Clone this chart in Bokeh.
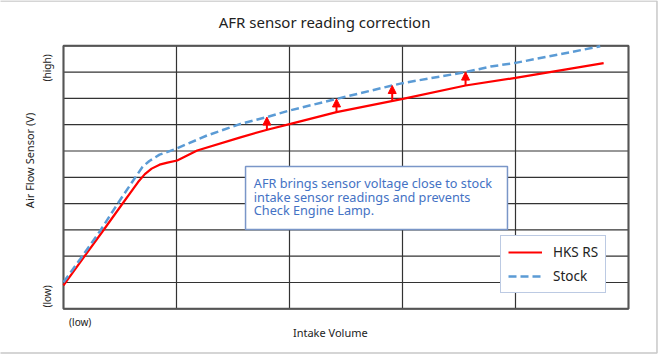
import numpy as np
from bokeh.plotting import figure
from bokeh.models import (Label, BoxAnnotation, Arrow, NormalHead,
                          Legend, LegendItem, ColumnDataSource)
from bokeh.embed import file_html
from bokeh.resources import INLINE

# ---- data (arbitrary units) ----
hks_x = [0.0, 0.195, 0.342, 0.504, 0.66, 0.72, 0.78, 0.85, 0.92, 1.006, 1.183, 1.566, 1.803, 2.009, 2.416, 3.003, 3.558, 4.0, 4.78]
hks_y = [0.89, 2.05, 2.92, 3.89, 4.82, 5.12, 5.33, 5.48, 5.56, 5.64, 6.02, 6.52, 6.81, 7.03, 7.48, 7.98, 8.49, 8.78, 9.34]

stock_x = [0.0, 0.15, 0.327, 0.475, 0.62, 0.70, 0.76, 0.85, 0.976, 1.27, 1.566, 1.80, 2.0, 2.416, 2.909, 3.0, 3.558, 3.78, 4.0, 4.75]
stock_y = [1.01, 1.9, 2.98, 3.97, 4.9, 5.4, 5.62, 5.86, 6.05, 6.59, 7.03, 7.29, 7.54, 7.98, 8.49, 8.58, 9.0, 9.21, 9.35, 9.98]

arrow_x = [1.80, 2.416, 2.909, 3.558]
arrow_from = [6.81, 7.48, 7.90, 8.49]
arrow_to = [7.29, 7.98, 8.49, 9.0]

x_grid = [0, 1, 2, 3, 4, 5]
y_grid = [0, 1, 2, 3, 4, 5, 6, 7, 8, 9, 10]

title_text = "AFR sensor reading correction"
y_label = "Air Flow Sensor (V)"
x_label = "Intake Volume"
y_tick_labels = ["(low)", "(high)"]
x_tick_labels = ["(low)"]
note_lines = ["AFR brings sensor voltage close to stock",
              "intake sensor readings and prevents",
              "Check Engine Lamp."]
series_names = ["HKS RS", "Stock"]

RED = "#ff0000"
BLUE = "#5b9bd5"
BOX_BLUE = "#7a96c8"
TEXT_BLUE = "#4472c4"
INK = "#222222"
FONT = "Noto Sans"

X0, X1 = x_grid[0], x_grid[-1]
Y0, Y1 = y_grid[0], y_grid[-1]

p = figure(width=658, height=356, output_backend="svg", toolbar_location=None,
           x_range=(-0.5575, 5.2655), y_range=(-1.8137, 11.7224),
           x_axis_location=None, y_axis_location=None, min_border=0)
p.xgrid.visible = False
p.ygrid.visible = False
p.outline_line_color = None
p.background_fill_color = "white"
p.border_fill_color = "white"

# outer light border (top, right, bottom)
p.line([-0.6, 5.252, 5.252, -0.6], [11.703, 11.703, -1.681, -1.681],
       line_color="#c8c8c8", line_width=1.5)

# grid
p.segment(x0=x_grid, y0=[Y0] * len(x_grid), x1=x_grid, y1=[Y1] * len(x_grid),
          line_color="#333333", line_width=1.2)
p.segment(x0=[X0] * len(y_grid), y0=y_grid, x1=[X1] * len(y_grid), y1=y_grid,
          line_color="#333333", line_width=1.2)
p.quad(left=[X0], right=[X1], bottom=[Y0], top=[Y1], fill_color=None,
       line_color="#555555", line_width=2)

r_hks = p.line(hks_x, hks_y, line_color=RED, line_width=2.2)
r_stock = p.line(stock_x, stock_y, line_color=BLUE, line_width=2.5, line_dash="8 4")

src = ColumnDataSource(dict(x=arrow_x, y0=arrow_from, y1=arrow_to))
p.add_layout(Arrow(source=src, x_start="x", y_start="y0", x_end="x", y_end="y1",
                   line_color=RED, line_width=2,
                   end=NormalHead(size=8, fill_color=RED, line_color=RED, line_width=1)))

# annotation box
p.add_layout(BoxAnnotation(left=1.611, right=3.929, bottom=3.015, top=5.41,
                           fill_color="white", fill_alpha=1.0,
                           line_color=BOX_BLUE, line_width=1.5, line_alpha=1.0))
for line_text, ly in zip(note_lines, [4.78, 4.26, 3.74]):
    p.add_layout(Label(x=1.684, y=ly, text=line_text, text_baseline="middle", text_align="left",
                       text_font=FONT, text_font_size="12.7px", text_color=TEXT_BLUE))

# legend
legend = Legend(items=[LegendItem(label=series_names[0], renderers=[r_hks]),
                       LegendItem(label=series_names[1], renderers=[r_stock])],
                location=(500, 63), orientation="vertical",
                padding=7, margin=0, spacing=6, glyph_width=34, glyph_height=18,
                label_height=18, label_standoff=11,
                label_text_font=FONT, label_text_font_size="13.5px", label_text_color=INK,
                border_line_color=BOX_BLUE, border_line_width=1.5,
                background_fill_color="white", background_fill_alpha=1.0)
p.add_layout(legend, "center")

# texts
p.add_layout(Label(x=2.31, y=10.92, text=title_text, text_align="center", text_baseline="middle",
                   text_font=FONT, text_font_size="15px", text_color=INK))
p.add_layout(Label(x=-0.305, y=5.64, text=y_label, angle=np.pi / 2, text_align="center",
                   text_baseline="middle", text_font=FONT, text_font_size="11px", text_color=INK))
p.add_layout(Label(x=-0.142, y=9.16, text=y_tick_labels[1], angle=np.pi / 2, text_align="center",
                   text_baseline="middle", text_font=FONT, text_font_size="10px", text_color=INK))
p.add_layout(Label(x=-0.142, y=0.47, text=y_tick_labels[0], angle=np.pi / 2, text_align="center",
                   text_baseline="middle", text_font=FONT, text_font_size="10px", text_color=INK))
p.add_layout(Label(x=0.148, y=-0.51, text=x_tick_labels[0], text_align="center", text_baseline="middle",
                   text_font=FONT, text_font_size="10px", text_color=INK))
p.add_layout(Label(x=2.361, y=-0.91, text=x_label, text_align="center", text_baseline="middle",
                   text_font=FONT, text_font_size="11px", text_color=INK))

open("out.html", "w").write(file_html(p, INLINE))
